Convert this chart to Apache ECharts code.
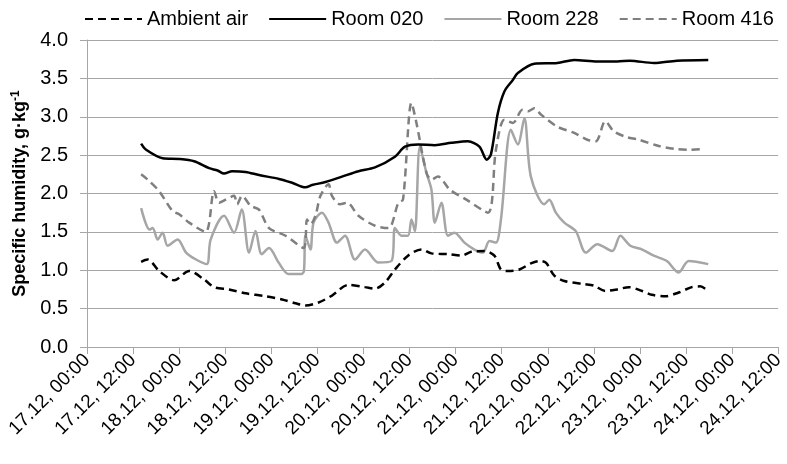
<!DOCTYPE html>
<html>
<head>
<meta charset="utf-8">
<title>Specific humidity</title>
<script src="https://cdn.jsdelivr.net/npm/echarts@6/dist/echarts.min.js"></script>
<style>
  html, body { margin: 0; padding: 0; background: #fff; }
  #chart { width: 787px; height: 464px; }
</style>
</head>
<body>
<div id="chart"></div>
<script>
// hours counted from 17.12, 00:00
const seriesNames = ['Ambient air', 'Room 020', 'Room 228', 'Room 416'];

const ambientT = [14.1, 15.8, 18.8, 22.7, 26.6, 30.5, 33.1, 37.0, 41.3, 46.5, 50.8, 54.3, 56.9, 60.3, 63.8, 68.1, 72.4, 75.0, 77.6, 80.2, 83.6, 87.1, 89.7, 94.0, 97.5, 100.1, 103.5, 106.1, 107.8, 109.6, 112.6, 115.6, 117.8, 119.5, 121.7, 124.3, 129.4, 132.0, 135.0, 138.1, 141.1, 144.6, 147.1, 150.6, 154.1, 157.5, 159.7, 161.0];
const ambientV = [1.11, 1.14, 0.99, 0.87, 0.99, 0.88, 0.78, 0.75, 0.70, 0.66, 0.62, 0.57, 0.54, 0.58, 0.67, 0.81, 0.78, 0.76, 0.84, 1.01, 1.19, 1.27, 1.22, 1.21, 1.19, 1.24, 1.25, 1.19, 1.01, 0.99, 1.01, 1.09, 1.12, 1.10, 0.93, 0.86, 0.82, 0.80, 0.73, 0.75, 0.78, 0.73, 0.68, 0.66, 0.71, 0.78, 0.79, 0.76];

const room020T = [14.1, 15.4, 19.7, 24.0, 27.9, 31.8, 34.0, 35.7, 37.8, 41.3, 44.8, 50.0, 53.4, 56.9, 58.6, 62.1, 66.4, 70.7, 75.0, 80.2, 82.8, 86.2, 90.6, 94.9, 99.2, 102.2, 104.1, 105.2, 107.0, 108.7, 110.9, 112.2, 116.5, 122.5, 126.9, 132.9, 138.1, 141.4, 147.6, 153.6, 161.8];
const room020V = [2.65, 2.57, 2.46, 2.45, 2.42, 2.33, 2.30, 2.26, 2.29, 2.28, 2.24, 2.19, 2.14, 2.08, 2.11, 2.15, 2.22, 2.29, 2.34, 2.48, 2.61, 2.64, 2.63, 2.66, 2.68, 2.61, 2.44, 2.51, 3.05, 3.33, 3.48, 3.57, 3.69, 3.70, 3.74, 3.72, 3.72, 3.73, 3.70, 3.73, 3.74];

const room228T = [14.1, 16.3, 17.1, 18.4, 19.7, 21.0, 23.6, 25.8, 28.4, 31.2, 32.2, 35.7, 38.3, 40.3, 42.2, 43.9, 45.5, 47.4, 49.9, 52.5, 55.8, 56.5, 56.9, 58.2, 59.0, 61.2, 62.9, 65.1, 67.2, 69.8, 72.4, 75.9, 79.3, 80.2, 81.9, 83.6, 84.5, 85.4, 86.7, 88.4, 89.7, 90.6, 92.3, 94.0, 95.7, 98.3, 100.9, 103.1, 104.8, 106.5, 107.8, 110.4, 112.2, 113.9, 115.6, 119.1, 120.4, 122.1, 124.3, 127.3, 129.9, 132.9, 136.8, 138.9, 141.5, 144.6, 147.6, 151.0, 154.1, 156.7, 161.8];
const room228V = [1.81, 1.53, 1.55, 1.40, 1.49, 1.32, 1.40, 1.23, 1.14, 1.08, 1.40, 1.71, 1.49, 1.79, 1.23, 1.51, 1.21, 1.29, 1.10, 0.95, 0.95, 0.99, 1.45, 1.27, 1.62, 1.75, 1.62, 1.36, 1.45, 1.14, 1.27, 1.10, 1.12, 1.55, 1.45, 1.45, 1.66, 1.51, 2.61, 2.27, 2.05, 1.62, 1.88, 1.45, 1.49, 1.36, 1.27, 1.23, 1.38, 1.36, 1.66, 2.83, 2.64, 2.98, 2.22, 1.86, 1.92, 1.75, 1.62, 1.51, 1.23, 1.34, 1.25, 1.45, 1.32, 1.27, 1.19, 1.12, 0.97, 1.12, 1.08];

const room416T = [14.1, 15.8, 18.8, 22.3, 24.0, 26.6, 30.9, 33.1, 34.4, 36.1, 38.3, 39.1, 40.4, 42.6, 44.8, 47.4, 51.7, 56.4, 57.3, 58.2, 59.5, 60.8, 62.9, 63.8, 65.9, 67.7, 70.7, 75.0, 78.5, 81.1, 82.3, 84.5, 85.8, 88.4, 89.7, 91.4, 94.5, 98.8, 104.4, 106.5, 108.7, 110.9, 113.4, 114.8, 116.5, 118.2, 122.5, 126.9, 130.3, 132.5, 135.0, 137.2, 140.2, 143.7, 148.9, 153.2, 156.7, 160.5];
const room416V = [2.25, 2.18, 2.03, 1.77, 1.73, 1.62, 1.50, 2.03, 1.88, 1.92, 1.97, 1.86, 1.97, 1.84, 1.79, 1.55, 1.45, 1.29, 1.66, 1.60, 1.71, 1.97, 2.12, 1.97, 1.86, 1.88, 1.71, 1.58, 1.55, 1.88, 1.92, 3.18, 2.92, 2.27, 2.18, 2.22, 2.05, 1.92, 1.75, 2.57, 2.96, 2.92, 3.09, 3.07, 3.11, 3.03, 2.87, 2.79, 2.70, 2.68, 2.94, 2.81, 2.74, 2.70, 2.62, 2.58, 2.57, 2.58];

const yTicks = ['0.0', '0.5', '1.0', '1.5', '2.0', '2.5', '3.0', '3.5', '4.0'];

function pairs(t, v) {
    return t.map((x, i) => [x, v[i]]);
}

function hourLabel(h) {
    const day = 17 + Math.floor(h / 24);
    const hh = h % 24;
    return day + '.12, ' + (hh < 10 ? '0' + hh : hh) + ':00';
}

const font = 'Liberation Sans, Arial, sans-serif';
const chart = echarts.init(document.getElementById('chart'));

const option = {
    animation: false,
    textStyle: { fontFamily: font },
    legend: {
        top: 4,
        left: 79,
        itemWidth: 57,
        itemHeight: 14,
        itemGap: 20,
        itemStyle: { opacity: 0 },
        textStyle: { fontSize: 20, color: '#000', fontFamily: font },
        data: seriesNames
    },
    grid: {
        left: 87,
        right: 6,
        top: 40,
        bottom: 117
    },
    xAxis: {
        type: 'value',
        min: 0,
        max: 180,
        interval: 12,
        axisLine: { lineStyle: { color: '#a6a6a6', width: 1 } },
        axisTick: { show: true, length: 7, lineStyle: { color: '#a6a6a6' } },
        splitLine: { show: false },
        axisLabel: {
            rotate: 45,
            fontSize: 19,
            color: '#000',
            margin: 10,
            formatter: (v) => hourLabel(v)
        }
    },
    yAxis: {
        type: 'value',
        min: 0,
        max: 4,
        interval: 0.5,
        name: '{a|Specific humidity, g·kg}{s|-1}',
        nameLocation: 'middle',
        nameGap: 51,
        nameTextStyle: {
            rich: {
                a: { fontSize: 18, fontWeight: 'bold', color: '#000', fontFamily: font, lineHeight: 22 },
                s: { fontSize: 12, fontWeight: 'bold', color: '#000', fontFamily: font, verticalAlign: 'top', lineHeight: 22 }
            }
        },
        axisLine: { show: true, lineStyle: { color: '#a6a6a6', width: 1 } },
        axisTick: { show: true, length: 7, lineStyle: { color: '#a6a6a6' } },
        splitLine: { show: true, lineStyle: { color: '#a6a6a6', width: 1 } },
        axisLabel: {
            fontSize: 20,
            color: '#000',
            margin: 19,
            formatter: (v) => yTicks[Math.round(v * 2)]
        }
    },
    series: [
        {
            name: seriesNames[0],
            type: 'line',
            symbol: 'none',
            smooth: 0.3,
            data: pairs(ambientT, ambientV),
            lineStyle: { color: '#000', width: 2.5, type: [8, 5] },
            itemStyle: { color: '#000' },
            z: 4
        },
        {
            name: seriesNames[1],
            type: 'line',
            symbol: 'none',
            smooth: 0.3,
            data: pairs(room020T, room020V),
            lineStyle: { color: '#000', width: 2.5 },
            itemStyle: { color: '#000' },
            z: 4
        },
        {
            name: seriesNames[2],
            type: 'line',
            symbol: 'none',
            smooth: 0.3,
            data: pairs(room228T, room228V),
            lineStyle: { color: '#a6a6a6', width: 2.5 },
            itemStyle: { color: '#a6a6a6' },
            z: 2
        },
        {
            name: seriesNames[3],
            type: 'line',
            symbol: 'none',
            smooth: 0.3,
            data: pairs(room416T, room416V),
            lineStyle: { color: '#7f7f7f', width: 2.5, type: [8, 5] },
            itemStyle: { color: '#7f7f7f' },
            z: 3
        }
    ]
};

chart.setOption(option);
</script>
</body>
</html>
